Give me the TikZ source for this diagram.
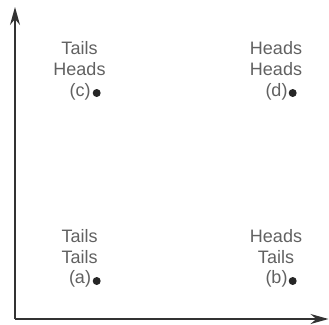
\documentclass[tikz,border=0pt]{standalone}
\usepackage{fontspec}
\setmainfont{Liberation Sans}
\usetikzlibrary{arrows.meta}
\begin{document}
\begin{tikzpicture}[x=1pt,y=-1pt,
  lbl/.style={inner sep=0pt, text=black!62, font=\fontsize{18}{22}\selectfont, anchor=base},
  pt/.style={circle, fill=black!85, inner sep=0pt, minimum size=8pt},
  axis/.style={line width=1.6pt, draw=black!80, -{Stealth[length=18pt,width=10pt]}}]
\useasboundingbox (0,0) rectangle (329,324);
\coordinate (o) at (15,319);
\coordinate (ytip) at (15,7);
\coordinate (xtip) at (328.5,319);
\draw[axis] (o) -- (ytip);
\draw[axis] (o) -- (xtip);
% (c)
\node[lbl] (c1) at (79.5,54) {Tails};
\node[lbl] (c2) at (79.5,75.5) {Heads};
\node[lbl] (c3) at (80,96) {(c)};
\node[pt] (cd) at (96.7,93) {};
% (d)
\node[lbl] (d1) at (276,54) {Heads};
\node[lbl] (d2) at (276,75.5) {Heads};
\node[lbl] (d3) at (276.5,96) {(d)};
\node[pt] (dd) at (292.7,93) {};
% (a)
\node[lbl] (a1) at (79.7,242.5) {Tails};
\node[lbl] (a2) at (79.7,263) {Tails};
\node[lbl] (a3) at (80,283.5) {(a)};
\node[pt] (ad) at (96.7,281) {};
% (b)
\node[lbl] (b1) at (276,242.5) {Heads};
\node[lbl] (b2) at (276,263) {Tails};
\node[lbl] (b3) at (276.5,283.5) {(b)};
\node[pt] (bd) at (292.7,281) {};
\end{tikzpicture}
\end{document}
